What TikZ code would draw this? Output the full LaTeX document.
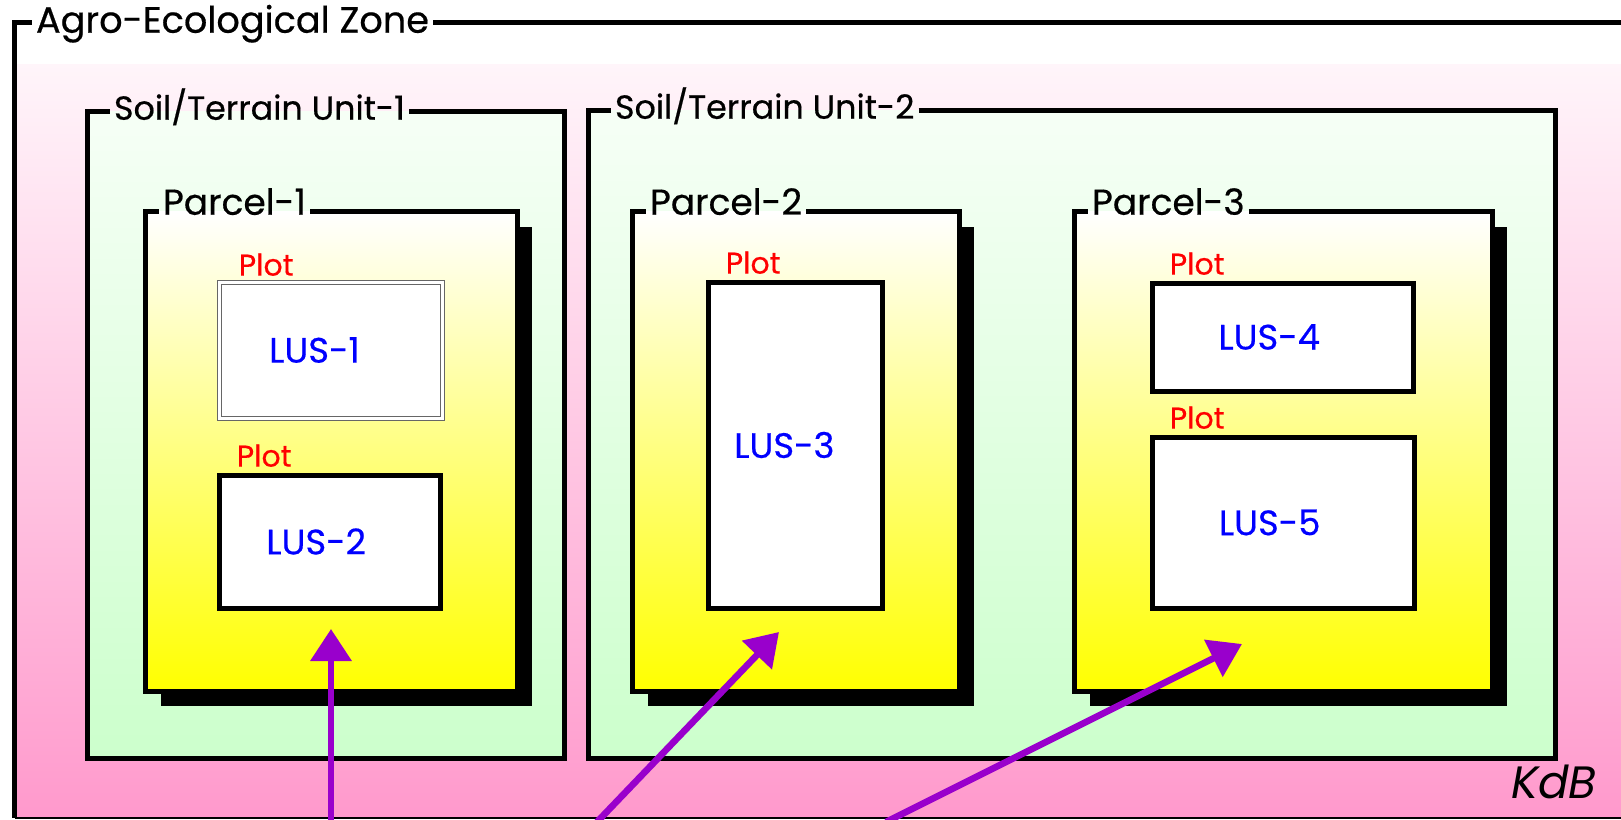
\documentclass[tikz,border=0pt]{standalone}
\usepackage[dvipsnames]{xcolor}
\usepackage{fontspec}
\setmainfont{Poppins}
\newfontfamily\heavyfont{Poppins}[FakeBold=0.5]
\usepackage{tikz}
\usetikzlibrary{positioning}
\usetikzlibrary{calc}
\usetikzlibrary{arrows.meta}
\usetikzlibrary{fit}
\usetikzlibrary{shadows}

\definecolor{ZonePink}{RGB}{255,153,204}
\definecolor{UnitGreen}{RGB}{204,255,204}
\definecolor{UnitPale}{RGB}{246,255,246}
\definecolor{ArrowPurple}{RGB}{153,0,204}

\pgfdeclareverticalshading{zoneshading}{100bp}{color(0bp)=(ZonePink); color(25bp)=(ZonePink); color(29bp)=(ZonePink!92!white); color(75bp)=(ZonePink!10!white); color(100bp)=(ZonePink!10!white)}

\begin{document}
\begin{tikzpicture}[
	x=0.75pt, y=-0.75pt,
	frameline/.style={draw=black, line width=3.75pt},
	boxlabel/.style={inner xsep=3pt, inner ysep=0pt, anchor=base west, font=\heavyfont\fontsize{25}{27}\selectfont},
	unitbox/.style={inner sep=0pt, top color=UnitPale, bottom color=UnitGreen},
	parcelbox/.style={inner sep=0pt, top color=white, bottom color=yellow,
		drop shadow={shadow xshift=11pt, shadow yshift=-11pt, opacity=1, fill=black}},
	plotbox/.style={inner sep=0pt, fill=white, draw=black, line width=3.75pt},
	plotlabel/.style={inner sep=0pt, text=red, font=\heavyfont\fontsize{22.5}{24}\selectfont},
	lustext/.style={text=blue, font=\heavyfont\fontsize{26.5}{28}\selectfont},
	flowarrow/.style={draw=ArrowPurple, line width=5pt, -{Triangle[length=24pt, width=30pt]}}
]

\useasboundingbox[fill=white] (0,0) rectangle (1621,820);
\shade[shading=zoneshading] (15,65) rectangle (1621,818);

\node[
	inner sep=0pt,
	fit={(15,23) (1640,818)}
] (zone) {};
\node[
	boxlabel,
	font=\heavyfont\fontsize{27.5}{29}\selectfont,
	at={([shift={(17,10)}]zone.north west)}
] (zonelbl) {Agro-Ecological Zone};
\draw[frameline] (zonelbl.east |- zone.north) -- (zone.north east);
\draw[frameline] (zonelbl.west |- zone.north) -| (zone.south west);
\draw[line width=1.5pt] (zone.south west) -- (zone.south east);

% soil / terrain units
\node[
	unitbox,
	fit={(88,112) (564,758)}
] (unit1) {};
\node[
	unitbox,
	fit={(589,111) (1555,758)}
] (unit2) {};

\foreach \u/\txt in {unit1/Soil\slash Terrain Unit-1, unit2/Soil\slash Terrain Unit-2}{
	\node[boxlabel, at={([shift={(22,8)}]\u.north west)}] (\u lbl) {\txt};
	\draw[frameline] (\u lbl.east |- \u.north) -| (\u.south east) -| (\u.north west) -- (\u lbl.west |- \u.north);
}

% parcels
\node[
	parcelbox,
	fit={(146,212) (517,691)}
] (parcel1) {};
\node[
	parcelbox,
	fit={(633,212) (959,691)}
] (parcel2) {};
\node[
	parcelbox,
	fit={(1075,212) (1492,691)}
] (parcel3) {};

\foreach \p/\txt in {parcel1/Parcel-1, parcel2/Parcel-2, parcel3/Parcel-3}{
	\node[boxlabel, font=\heavyfont\fontsize{27}{29}\selectfont, at={([shift={(13,3)}]\p.north west)}] (\p lbl) {\txt};
	\draw[frameline] (\p lbl.east |- \p.north) -| (\p.south east) -| (\p.north west) -- (\p lbl.west |- \p.north);
}

% plots
\node[
	inner sep=0pt,
	fill=white,
	draw=black!60,
	line width=0.75pt,
	double=white,
	double distance=2.25pt,
	fit={(219,282) (442,418)}
] (lus1) {};
\node[plotbox, fit={(219,475) (440,608)}] (lus2) {};
\node[plotbox, fit={(708,282) (882,608)}] (lus3) {};
\node[plotbox, fit={(1152,283) (1413,391)}] (lus4) {};
\node[plotbox, fit={(1152,437) (1414,608)}] (lus5) {};

\foreach \b in {lus1, lus2, lus3, lus4, lus5}{
	\node[plotlabel, above right=4pt and 15pt of \b.north west] (\b plot) {Plot};
}

\node[lustext] (lus1txt) at ([xshift=-12pt]lus1.center) {LUS-1};
\node[lustext] (lus2txt) at ([xshift=-10pt]lus2.center) {LUS-2};
\node[lustext] (lus3txt) at ([xshift=-8pt]lus3.center) {LUS-3};
\node[lustext] (lus4txt) at ([xshift=-10pt]lus4.center) {LUS-4};
\node[lustext] (lus5txt) at ([xshift=-10pt]lus5.center) {LUS-5};

% arrows from below
\coordinate (src1) at (331,822);
\coordinate (src2) at (597,822);
\coordinate (src3) at (886,822);
\coordinate (tip1) at (331,629);
\coordinate (tip2) at (779,632);
\coordinate (tip3) at (1242,644);

\draw[flowarrow] (src1) -- (tip1);
\draw[flowarrow] (src2) -- (tip2);
\draw[flowarrow] (src3) -- (tip3);

\node[
	anchor=base east,
	inner sep=0pt,
	font=\fontsize{34}{36}\selectfont\itshape
] (kdb) at (1597,798) {KdB};

\end{tikzpicture}
\end{document}
